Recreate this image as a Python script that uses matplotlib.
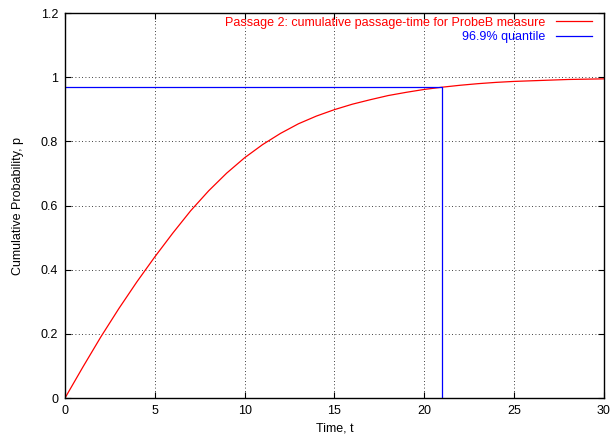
import numpy as np
import matplotlib
matplotlib.use('Agg')
import matplotlib.pyplot as plt

# values
time_t = [0, 1, 2, 3, 4, 5, 6, 7, 8, 9, 10, 11, 12, 13, 14, 15,
          16, 17, 18, 19, 20, 21, 22, 23, 24, 25, 26, 27, 28, 29, 30]
cum_prob = [0.0, 0.097, 0.191, 0.279, 0.362, 0.440, 0.514, 0.584, 0.646,
            0.701, 0.749, 0.790, 0.825, 0.855, 0.879, 0.899, 0.916, 0.930,
            0.943, 0.953, 0.962, 0.969, 0.975, 0.980, 0.984, 0.987, 0.989,
            0.991, 0.993, 0.994, 0.995]
quantile_t = 21.0
quantile_p = 0.969

x_ticks = [0, 5, 10, 15, 20, 25, 30]
y_ticks = [0, 0.2, 0.4, 0.6, 0.8, 1.0, 1.2]
y_labels = ["0", "0.2", "0.4", "0.6", "0.8", "1", "1.2"]

plt.rcParams['font.family'] = ['Liberation Sans', 'DejaVu Sans']
plt.rcParams['font.size'] = 9

fig = plt.figure(figsize=(6.13, 4.36), dpi=100)
ax = fig.add_axes([0.106, 0.087, 0.879, 0.883])

ax.plot(time_t, cum_prob, '-', color='red', lw=0.9,
        label="Passage 2: cumulative passage-time for ProbeB measure")
ax.plot([0, quantile_t, quantile_t], [quantile_p, quantile_p, 0], '-',
        color='blue', lw=0.9, label="96.9% quantile")

ax.set_xlim(0, 30)
ax.set_ylim(0, 1.2)
ax.set_xticks(x_ticks)
ax.set_yticks(y_ticks)
ax.set_yticklabels(y_labels)
ax.tick_params(direction='in', top=True, right=True, length=4, width=0.8,
               pad=5)
ax.grid(True, linestyle=(0, (1, 3)), color='black', lw=0.6)
for s in ax.spines.values():
    s.set_linewidth(1.0)

ax.set_xlabel("Time, t", labelpad=4)
ax.set_ylabel("Cumulative Probability, p", labelpad=12)

leg = ax.legend(loc='upper right', bbox_to_anchor=(0.985, 1.0),
                frameon=False, markerfirst=False, labelcolor='linecolor',
                handlelength=2.9, borderpad=0, borderaxespad=0.3,
                labelspacing=0.2, handletextpad=0.8)

fig.savefig("out.png", dpi=100)
